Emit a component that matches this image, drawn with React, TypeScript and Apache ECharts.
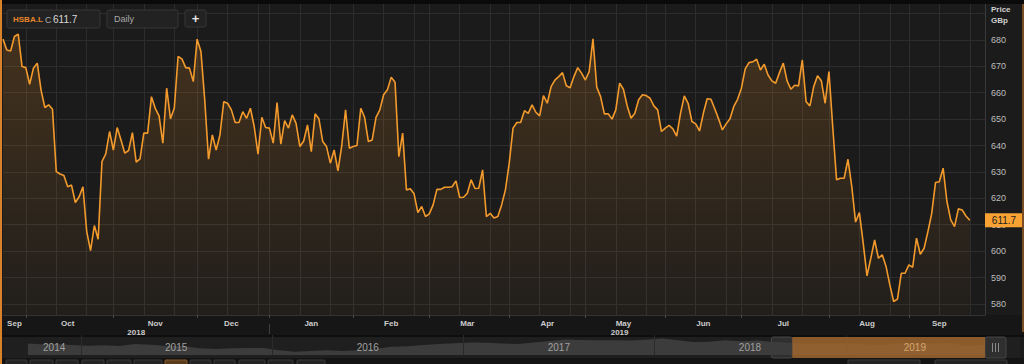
import React, { useEffect, useRef } from 'react';
import * as echarts from 'echarts';

const FONT = '"Liberation Sans", Arial, Helvetica, sans-serif';

// ---- main series (daily closes, GBp) ----
const START_DATE = '2018-09-21';
const HOLIDAYS = ['2018-12-25', '2018-12-26', '2019-01-01', '2019-04-19', '2019-04-22', '2019-05-06', '2019-05-27', '2019-08-26'];
const FUTURE_SLOTS = 4;
const TICKER = 'HSBA.L';
const INTERVAL_NAME = 'Daily';
const PRICES = [
  680.3, 676.2, 675.8, 681.3, 682.2, 669.9, 669.5, 663.2, 669.3, 671.2,
  661.0, 654.4, 655.4, 653.7, 630.1, 629.2, 628.6, 624.4, 625.0, 618.4,
  620.6, 624.4, 607.4, 600.2, 609.7, 604.5, 633.9, 636.8, 645.3, 638.3,
  646.8, 642.1, 637.1, 638.1, 644.9, 633.7, 634.9, 644.7, 644.7, 658.5,
  654.1, 651.2, 640.9, 661.7, 650.1, 654.1, 673.7, 672.8, 669.5, 669.3,
  664.2, 680.3, 675.6, 657.3, 634.8, 644.0, 638.3, 644.0, 656.6, 656.0,
  653.5, 648.7, 648.7, 652.8, 650.3, 654.1, 647.2, 636.7, 650.7, 646.8,
  646.6, 640.9, 656.3, 640.5, 649.4, 646.6, 651.6, 648.4, 639.6, 641.7,
  647.8, 637.7, 652.0, 650.1, 641.5, 639.6, 633.3, 638.3, 630.4, 640.0,
  653.5, 639.0, 639.6, 640.0, 654.1, 650.7, 641.5, 642.1, 650.7, 653.5,
  659.2, 661.1, 665.9, 664.0, 635.8, 644.7, 623.2, 623.6, 621.7, 614.6,
  616.9, 613.1, 614.1, 617.5, 623.4, 623.4, 624.2, 624.2, 624.4, 626.6,
  620.3, 620.4, 621.9, 627.0, 623.7, 623.8, 630.8, 613.1, 614.3, 612.5,
  613.1, 617.5, 623.2, 633.3, 646.6, 648.7, 648.7, 653.2, 652.2, 655.4,
  652.6, 651.2, 658.9, 656.0, 662.3, 664.8, 666.1, 667.6, 662.6, 661.9,
  666.1, 669.5, 667.4, 664.8, 668.0, 680.4, 662.1, 658.5, 652.0, 652.0,
  650.0, 653.5, 663.6, 661.3, 655.0, 650.3, 652.2, 657.3, 659.2, 658.9,
  657.9, 655.0, 653.5, 645.3, 646.6, 647.6, 646.3, 643.6, 652.2, 658.8,
  656.0, 649.1, 648.2, 645.5, 652.2, 657.7, 657.5, 653.9, 650.1, 645.9,
  648.2, 650.1, 654.8, 657.5, 661.7, 669.0, 671.4, 671.7, 672.7, 668.6,
  670.8, 666.7, 664.5, 663.6, 667.6, 671.2, 664.5, 661.3, 662.8, 662.6,
  672.4, 656.6, 655.0, 662.3, 666.4, 664.5, 656.0, 668.0, 647.0, 627.0,
  627.6, 627.6, 634.8, 624.4, 611.0, 614.6, 603.0, 590.6, 597.3, 604.2,
  597.3, 598.6, 594.2, 587.2, 580.9, 581.8, 591.6, 591.6, 594.8, 593.9,
  604.9, 598.8, 601.1, 607.4, 614.3, 626.0, 626.3, 631.4, 618.8, 611.8,
  609.3, 616.0, 615.6, 613.3, 611.7,
];

const Y_MIN = 575.8;
const Y_MAX = 693.6;
const Y_GRID_VALUES = [580, 590, 600, 610, 620, 630, 640, 650, 660, 670, 680, 690];
const Y_LABEL_VALUES = [580, 590, 600, 610, 620, 630, 640, 650, 660, 670, 680];
const MONTHS = ['Jan', 'Feb', 'Mar', 'Apr', 'May', 'Jun', 'Jul', 'Aug', 'Sep', 'Oct', 'Nov', 'Dec'];
const GRID_STEP_DAYS = 8;

// ---- navigator (history silhouette) ----
const NAV_DATES = [
  '2014-09-22', '2014-10-15', '2014-11-15', '2014-12-15',
  '2015-01-15', '2015-02-15', '2015-03-15', '2015-04-15', '2015-05-15', '2015-06-15', '2015-07-15', '2015-08-15', '2015-09-15', '2015-10-15', '2015-11-15', '2015-12-15',
  '2016-01-15', '2016-02-15', '2016-03-15', '2016-04-15', '2016-05-15', '2016-06-15', '2016-07-15', '2016-08-15', '2016-09-15', '2016-10-15', '2016-11-15', '2016-12-15',
  '2017-01-15', '2017-02-15', '2017-03-15', '2017-04-15', '2017-05-15', '2017-06-15', '2017-07-15', '2017-08-15', '2017-09-15', '2017-10-15', '2017-11-15', '2017-12-15',
  '2018-01-15', '2018-02-15', '2018-03-15', '2018-04-15', '2018-05-15', '2018-06-15', '2018-07-15', '2018-08-15', '2018-09-15', '2018-10-15', '2018-11-15', '2018-12-15',
  '2019-01-15', '2019-02-15', '2019-03-15', '2019-04-15', '2019-05-15', '2019-06-15', '2019-07-15', '2019-08-15', '2019-09-24',
];
const NAV_VALUES = [
  650, 630, 640, 610,
  590, 600, 585, 640, 620, 580, 585, 520, 500, 520, 530, 530,
  470, 430, 445, 465, 450, 465, 500, 560, 575, 610, 640, 655,
  680, 670, 650, 640, 680, 720, 760, 745, 735, 740, 730, 750,
  785, 740, 690, 700, 740, 710, 730, 700, 670, 640, 650, 650,
  650, 625, 620, 655, 660, 650, 665, 595, 612,
];
const NAV_MIN_DATE = '2014-09-22';
const NAV_MAX_DATE = '2019-11-05';
const NAV_Y_MIN = 340;
const NAV_Y_MAX = 880;
const NAV_YEAR_STARTS = ['2015-01-01', '2016-01-01', '2017-01-01', '2018-01-01', '2019-01-01'];
const NAV_YEAR_LABEL_AT = ['2014-11-11', '2015-07-02', '2016-07-02', '2017-07-02', '2018-07-02'];
const NAV_SELECTED_LABEL_AT = '2019-05-13';

const ts = (d: string) => new Date(d + 'T00:00:00Z').getTime();

function buildTradingDays(start: string, count: number, holidays: string[]) {
  const out: string[] = [];
  const d = new Date(start + 'T00:00:00Z');
  while (out.length < count) {
    const dow = d.getUTCDay();
    const s = d.toISOString().slice(0, 10);
    if (dow !== 0 && dow !== 6 && holidays.indexOf(s) < 0) out.push(s);
    d.setUTCDate(d.getUTCDate() + 1);
  }
  return out;
}

export default function App() {
  const ref = useRef<HTMLDivElement>(null);

  useEffect(() => {
    document.body.style.margin = '0';
    const el = ref.current!;
    const chart = echarts.init(el, undefined, { renderer: 'svg' });

    const dates = buildTradingDays(START_DATE, PRICES.length + FUTURE_SLOTS, HOLIDAYS);
    const lastIdx = PRICES.length - 1;

    const monthStarts: number[] = [];
    for (let i = 1; i <= lastIdx; i++) {
      if (dates[i].slice(0, 7) !== dates[i - 1].slice(0, 7)) monthStarts.push(i);
    }
    const monthStartSet = new Set(monthStarts);
    const segStarts = [0, ...monthStarts];
    const monthLabel = new Map<number, string>();
    segStarts.forEach((s, k) => {
      const e = k + 1 < segStarts.length ? segStarts[k + 1] : lastIdx;
      monthLabel.set(Math.floor((s + e) / 2), MONTHS[parseInt(dates[s].slice(5, 7), 10) - 1]);
    });
    const gridSet = new Set<number>();
    monthStarts.forEach((s, k) => {
      const e = k + 1 < monthStarts.length ? monthStarts[k + 1] : lastIdx + 1;
      for (let j = s; j < e; j += GRID_STEP_DAYS) gridSet.add(j);
    });
    let yearStartIdx = 0;
    for (let i = 1; i <= lastIdx; i++) {
      if (dates[i].slice(0, 4) !== dates[i - 1].slice(0, 4)) { yearStartIdx = i; break; }
    }
    const yearLabel = new Map<number, string>();
    yearLabel.set(Math.floor(yearStartIdx / 2), dates[0].slice(0, 4));
    yearLabel.set(Math.floor((yearStartIdx + lastIdx) / 2), dates[yearStartIdx].slice(0, 4));

    const option: any = {
      animation: false,
      backgroundColor: '#1b1b1b',
      textStyle: { fontFamily: FONT },
      grid: [
        { left: 3, right: 39, top: 4, bottom: 49 },
        { left: 28, right: 17, top: 335, bottom: 9 },
      ],
      xAxis: [
        {
          type: 'category', gridIndex: 0, data: dates, boundaryGap: false,
          axisLine: { show: true, lineStyle: { color: '#333333' } },
          axisTick: { show: true, interval: (i: number) => monthStartSet.has(i), length: 3, lineStyle: { color: '#4a4a4a' } },
          axisLabel: {
            interval: (i: number) => monthLabel.has(i),
            formatter: (_v: string, i: number) => monthLabel.get(i) || '',
            color: '#cdcdcd', fontSize: 8, fontWeight: 'bold', margin: 4, fontFamily: FONT,
          },
          splitLine: { show: true, interval: (i: number) => gridSet.has(i), lineStyle: { color: '#2d2d2d', width: 1 } },
        },
        {
          type: 'category', gridIndex: 0, data: dates, boundaryGap: false, position: 'bottom', offset: 9,
          axisLine: { show: false }, axisTick: { show: false }, splitLine: { show: false },
          axisLabel: {
            interval: (i: number) => yearLabel.has(i),
            formatter: (_v: string, i: number) => yearLabel.get(i) || '',
            color: '#cdcdcd', fontSize: 8, fontWeight: 'bold', margin: 4, fontFamily: FONT,
          },
        },
        {
          type: 'value', gridIndex: 1, min: ts(NAV_MIN_DATE), max: ts(NAV_MAX_DATE), scale: true, z: 5,
          axisLine: { show: false },
          axisTick: { show: false, customValues: NAV_YEAR_STARTS.map(ts) },
          splitLine: { show: true, lineStyle: { color: '#2a2a2a', width: 1 } },
          axisLabel: {
            inside: true, customValues: NAV_YEAR_LABEL_AT.map(ts),
            formatter: (v: number) => String(new Date(v).getUTCFullYear()),
            color: '#a0a0a0', fontSize: 10, margin: 3, fontFamily: FONT,
          },
        },
      ],
      yAxis: [
        {
          type: 'value', gridIndex: 0, position: 'right', min: Y_MIN, max: Y_MAX,
          axisLine: { show: true, lineStyle: { color: '#3a3a3a' } },
          axisTick: { show: false, customValues: Y_GRID_VALUES },
          axisLabel: { customValues: Y_LABEL_VALUES, color: '#bdbdbd', fontSize: 9, margin: 6, fontFamily: FONT },
          splitLine: { show: true, lineStyle: { color: '#2d2d2d', width: 1 } },
        },
        { type: 'value', gridIndex: 1, min: NAV_Y_MIN, max: NAV_Y_MAX, show: false },
      ],
      series: [
        {
          type: 'line', xAxisIndex: 0, yAxisIndex: 0, data: PRICES,
          showSymbol: false, symbol: 'none', z: 3,
          lineStyle: { color: '#f39a2c', width: 1.6 },
          areaStyle: {
            color: new echarts.graphic.LinearGradient(0, 0, 0, 1, [
              { offset: 0, color: 'rgba(247,150,40,0.26)' },
              { offset: 1, color: 'rgba(247,150,40,0.04)' },
            ]),
          },
        },
        {
          type: 'line', xAxisIndex: 2, yAxisIndex: 1, z: 1,
          data: NAV_DATES.map((d, i) => [ts(d), NAV_VALUES[i]]),
          showSymbol: false, symbol: 'none',
          lineStyle: { width: 0, color: '#3c3c3c' },
          areaStyle: { color: '#3c3c3c', opacity: 1 },
        },
      ],
    };
    chart.setOption(option);

    // dynamic positions from the library's scales
    const [, lastY] = chart.convertToPixel({ xAxisIndex: 0, yAxisIndex: 0 }, [lastIdx, PRICES[lastIdx]]) as number[];
    const [jx] = chart.convertToPixel({ xAxisIndex: 0, yAxisIndex: 0 }, [yearStartIdx, Y_MIN]) as number[];
    const [sx] = chart.convertToPixel({ xAxisIndex: 2, yAxisIndex: 1 }, [ts(dates[0]), NAV_Y_MIN]) as number[];
    const [ex] = chart.convertToPixel({ xAxisIndex: 2, yAxisIndex: 1 }, [ts(dates[lastIdx]), NAV_Y_MIN]) as number[];
    const [lx] = chart.convertToPixel({ xAxisIndex: 2, yAxisIndex: 1 }, [ts(NAV_SELECTED_LABEL_AT), NAV_Y_MIN]) as number[];

    const handle = (x: number) => ({
      type: 'group', z: 12,
      children: [
        { type: 'rect', shape: { x, y: 337, width: 21, height: 21, r: 2 }, style: { fill: '#2f2f2f', stroke: '#474747', lineWidth: 1 } },
        { type: 'line', shape: { x1: x + 7.5, y1: 343, x2: x + 7.5, y2: 352 }, style: { stroke: '#8a8a8a', lineWidth: 1 } },
        { type: 'line', shape: { x1: x + 10.5, y1: 343, x2: x + 10.5, y2: 352 }, style: { stroke: '#8a8a8a', lineWidth: 1 } },
        { type: 'line', shape: { x1: x + 13.5, y1: 343, x2: x + 13.5, y2: 352 }, style: { stroke: '#8a8a8a', lineWidth: 1 } },
      ],
    });

    const buttons = [[6, 21], [30, 23], [56, 22], [82, 22], [107, 24], [134, 28], [190, 21], [214, 21], [239, 26], [268, 25], [297, 28], [848, 72], [935, 72]];

    const dropdown = (x: number) => ({
      type: 'group', z: 20,
      children: [
        { type: 'rect', shape: { x, y: 14, width: 14, height: 11, r: 1 }, style: { fill: '#0f0f0f' } },
        { type: 'polygon', shape: { points: [[x + 4.5, 18], [x + 9.5, 18], [x + 7, 21.5]] }, style: { fill: '#e0e0e0' } },
      ],
    });

    chart.setOption({
      graphic: [
        { type: 'rect', z: -10, shape: { x: 0, y: 315, width: 1024, height: 21 }, style: { fill: '#161616' } },
        { type: 'rect', z: -10, shape: { x: 0, y: 335, width: 1024, height: 2 }, style: { fill: '#0e0e0e' } },
        { type: 'rect', z: -10, shape: { x: 3, y: 337, width: 1017, height: 21 }, style: { fill: '#1f1f1f' } },
        { type: 'rect', z: -10, shape: { x: 0, y: 358, width: 1024, height: 6 }, style: { fill: '#141414' } },
        { type: 'rect', z: 30, shape: { x: 0, y: 0, width: 1024, height: 4 }, style: { fill: '#0a0a0a' } },
        { type: 'rect', z: 30, shape: { x: 0, y: 0, width: 2, height: 364 }, style: { fill: '#d9822b' } },
        { type: 'rect', z: 30, shape: { x: 1022, y: 4, width: 2, height: 328 }, style: { fill: '#7a4e22' } },
        { type: 'line', z: 5, shape: { x1: jx, y1: 324, x2: jx, y2: 334 }, style: { stroke: '#444444', lineWidth: 1 } },
        // selection overlay on navigator
        { type: 'rect', z: 10, shape: { x: sx, y: 337, width: ex - sx, height: 21 }, style: { fill: 'rgba(166,105,46,0.8)' } },
        { type: 'text', z: 11, style: { x: lx, y: 347.5, text: dates[lastIdx].slice(0, 4), fill: '#d3a56f', fontSize: 10, fontFamily: FONT, align: 'center', verticalAlign: 'middle' } },
        handle(sx - 21),
        handle(ex),
        // bottom buttons
        ...buttons.map(([x, w]) => ({ type: 'rect', z: 5, shape: { x, y: 360, width: w, height: 8, r: 1 }, style: { fill: '#232323', stroke: '#3a3a3a', lineWidth: 1 } })),
        { type: 'rect', z: 6, shape: { x: 165, y: 360, width: 22, height: 8, r: 1 }, style: { fill: '#5a3d1e', stroke: '#8a5a2b', lineWidth: 1 } },
        // price tag
        { type: 'rect', z: 20, shape: { x: 985, y: lastY - 7, width: 38, height: 14 }, style: { fill: '#f7a233' } },
        { type: 'text', z: 21, style: { x: 1004, y: lastY, text: PRICES[lastIdx].toFixed(1), fill: '#1e1e1e', fontSize: 10, fontFamily: FONT, align: 'center', verticalAlign: 'middle' } },
        // axis caption
        { type: 'text', z: 20, style: { x: 991, y: 9, text: 'Price', fill: '#d0d0d0', fontSize: 8, fontWeight: 'bold', fontFamily: FONT, verticalAlign: 'middle' } },
        { type: 'text', z: 20, style: { x: 991, y: 20, text: 'GBp', fill: '#d0d0d0', fontSize: 8, fontWeight: 'bold', fontFamily: FONT, verticalAlign: 'middle' } },
        // controls
        { type: 'rect', z: 19, shape: { x: 7, y: 10, width: 93, height: 18, r: 2 }, style: { fill: '#222222', stroke: '#363636', lineWidth: 1 } },
        { type: 'text', z: 20, style: { x: 13, y: 19.5, text: TICKER, fill: '#e8862a', fontSize: 8, fontWeight: 'bold', fontFamily: FONT, verticalAlign: 'middle' } },
        { type: 'text', z: 20, style: { x: 45, y: 19.5, text: 'C', fill: '#a8a8a8', fontSize: 9, fontFamily: FONT, verticalAlign: 'middle' } },
        { type: 'text', z: 20, style: { x: 53, y: 19.5, text: PRICES[lastIdx].toFixed(1), fill: '#d8d8d8', fontSize: 10, fontFamily: FONT, verticalAlign: 'middle' } },
        dropdown(83),
        { type: 'rect', z: 19, shape: { x: 107, y: 10, width: 71, height: 18, r: 2 }, style: { fill: '#222222', stroke: '#363636', lineWidth: 1 } },
        { type: 'text', z: 20, style: { x: 114, y: 19, text: INTERVAL_NAME, fill: '#a8a8a8', fontSize: 9, fontFamily: FONT, verticalAlign: 'middle' } },
        dropdown(163),
        { type: 'rect', z: 19, shape: { x: 185, y: 10, width: 21, height: 17, r: 2 }, style: { fill: '#222222', stroke: '#363636', lineWidth: 1 } },
        { type: 'text', z: 20, style: { x: 195.5, y: 18.5, text: '+', fill: '#e6e6e6', fontSize: 13, fontWeight: 'bold', fontFamily: FONT, align: 'center', verticalAlign: 'middle' } },
      ],
    });

    return () => chart.dispose();
  }, []);

  return <div ref={ref} style={{ position: 'fixed', left: 0, top: 0, width: 1024, height: 364 }} />;
}
